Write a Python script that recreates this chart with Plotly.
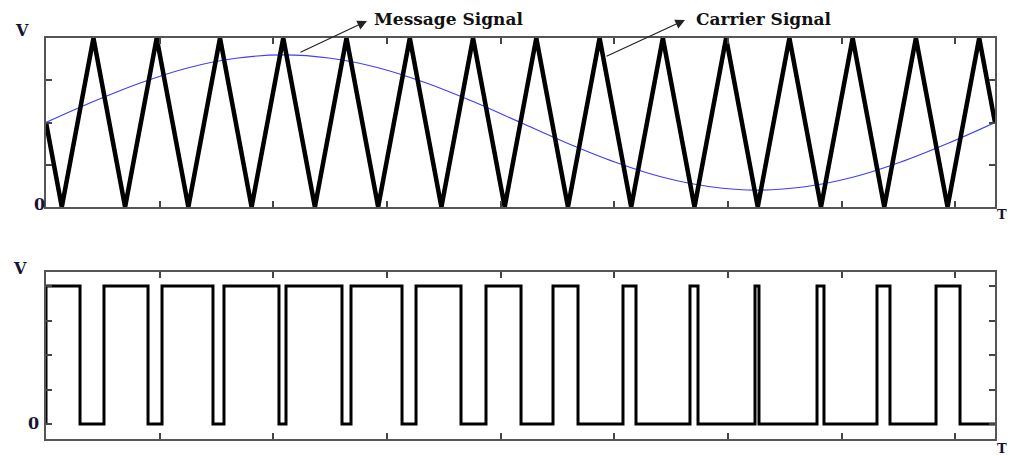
import plotly.graph_objects as go

# ---- data (time in ms, 0..20) ----
carrier_t = [0, 0.333, 1.0, 1.667, 2.333, 3.0, 3.667, 4.333, 5.0, 5.667, 6.333, 7.0,
             7.667, 8.333, 9.0, 9.667, 10.333, 11.0, 11.667, 12.333, 13.0, 13.667,
             14.333, 15.0, 15.667, 16.333, 17.0, 17.667, 18.333, 19.0, 19.667, 20.0]
carrier_v = [0.5, 0, 1, 0, 1, 0, 1, 0, 1, 0, 1, 0, 1, 0, 1, 0, 1, 0, 1, 0, 1, 0,
             1, 0, 1, 0, 1, 0, 1, 0, 1, 0.5]

message_t = [0, 1, 2, 3, 4, 5, 6, 7, 8, 9, 10, 11, 12, 13, 14, 15, 16, 17, 18, 19, 20]
message_v = [0.50, 0.624, 0.735, 0.824, 0.880, 0.900, 0.880, 0.824, 0.735, 0.624, 0.50,
             0.376, 0.265, 0.176, 0.120, 0.100, 0.120, 0.176, 0.265, 0.376, 0.50]

pwm_t = [0, 0, 0.717, 1.222, 2.150, 2.445, 3.519, 3.751, 4.910, 5.058, 6.238, 6.428,
         7.503, 7.798, 8.746, 9.273, 10.011, 10.685, 11.212, 12.160, 12.434, 13.572,
         13.741, 14.942, 15.026, 16.249, 16.396, 17.513, 17.787, 18.757, 19.263, 20.0]
pwm_v = [0, 1, 0, 1, 0, 1, 0, 1, 0, 1, 0, 1, 0, 1, 0, 1, 0, 1, 0, 1, 0, 1,
         0, 1, 0, 1, 0, 1, 0, 1, 0, 0]

# page body margin offsets the figure by 8px; work in window pixels and convert
OFF = 8
W, H = 1017 - 2 * OFF, 456 - OFF

def px(x):
    return (x - OFF) / W

def py(y):
    return 1 - (y - OFF) / H

fig = go.Figure()
fig.add_trace(go.Scatter(x=message_t, y=message_v, mode="lines", line=dict(color="#3f3ff5", width=1.2, shape="spline"),
                         xaxis="x", yaxis="y", showlegend=False))
fig.add_trace(go.Scatter(x=carrier_t, y=carrier_v, mode="lines", line=dict(color="#000000", width=4.5),
                         xaxis="x", yaxis="y", showlegend=False))
fig.add_trace(go.Scatter(x=pwm_t, y=pwm_v, mode="lines", line=dict(color="#000000", width=3, shape="hv"),
                         xaxis="x2", yaxis="y2", showlegend=False))

xdom = [px(46), px(995)]
axis_common = dict(showgrid=False, zeroline=False, showline=True, linecolor="#555555", linewidth=1.5,
                   mirror="ticks", ticks="inside", ticklen=6, tickcolor="#444444", tickwidth=1.5,
                   showticklabels=False)

fig.update_layout(
    width=W, height=H, margin=dict(l=0, r=0, t=0, b=0),
    paper_bgcolor="white", plot_bgcolor="white",
    xaxis=dict(domain=xdom, range=[0, 20], tick0=0, dtick=2.395, anchor="y", **axis_common),
    yaxis=dict(domain=[py(207), py(38)], range=[0, 1], tick0=0, dtick=0.25, anchor="x", **axis_common),
    xaxis2=dict(domain=xdom, range=[0, 20], tick0=0, dtick=2.395, anchor="y2", **axis_common),
    yaxis2=dict(domain=[py(439), py(272)], range=[-0.1087, 1.1014], tick0=0, dtick=0.25, anchor="x2", **axis_common),
)

def lab(text, x, y, size=16, anchor="center"):
    fig.add_annotation(text="<b>%s</b>" % text, x=px(x), y=py(y), xref="paper", yref="paper",
                       showarrow=False, font=dict(family="DejaVu Serif", size=size, color="#141432"),
                       xanchor=anchor, yanchor="middle")

lab("V", 22, 31)
lab("0", 39, 204)
lab("T", 1009, 214, size=13, anchor="right")
lab("V", 20, 268)
lab("0", 33, 423)
lab("T", 1009, 448, size=13, anchor="right")

# signal name labels
fig.add_annotation(text="<b>Message Signal</b>", x=px(372), y=py(19), xref="paper", yref="paper",
                   showarrow=False, font=dict(family="DejaVu Serif", size=17, color="#111111"),
                   xanchor="left", yanchor="middle")
fig.add_annotation(text="<b>Carrier Signal</b>", x=px(694), y=py(19), xref="paper", yref="paper",
                   showarrow=False, font=dict(family="DejaVu Serif", size=17, color="#111111"),
                   xanchor="left", yanchor="middle")

# arrows (head near label, tail on signal)
for hx, hy, tx, ty in [(367, 21, 299, 53), (685, 20, 605, 57)]:
    fig.add_annotation(text="", x=px(hx), y=py(hy), xref="paper", yref="paper",
                       ax=tx - hx, ay=ty - hy, axref="pixel", ayref="pixel",
                       showarrow=True, arrowhead=2, arrowsize=1.6, arrowwidth=1.2, arrowcolor="#222222")

fig.write_html("out.html")
